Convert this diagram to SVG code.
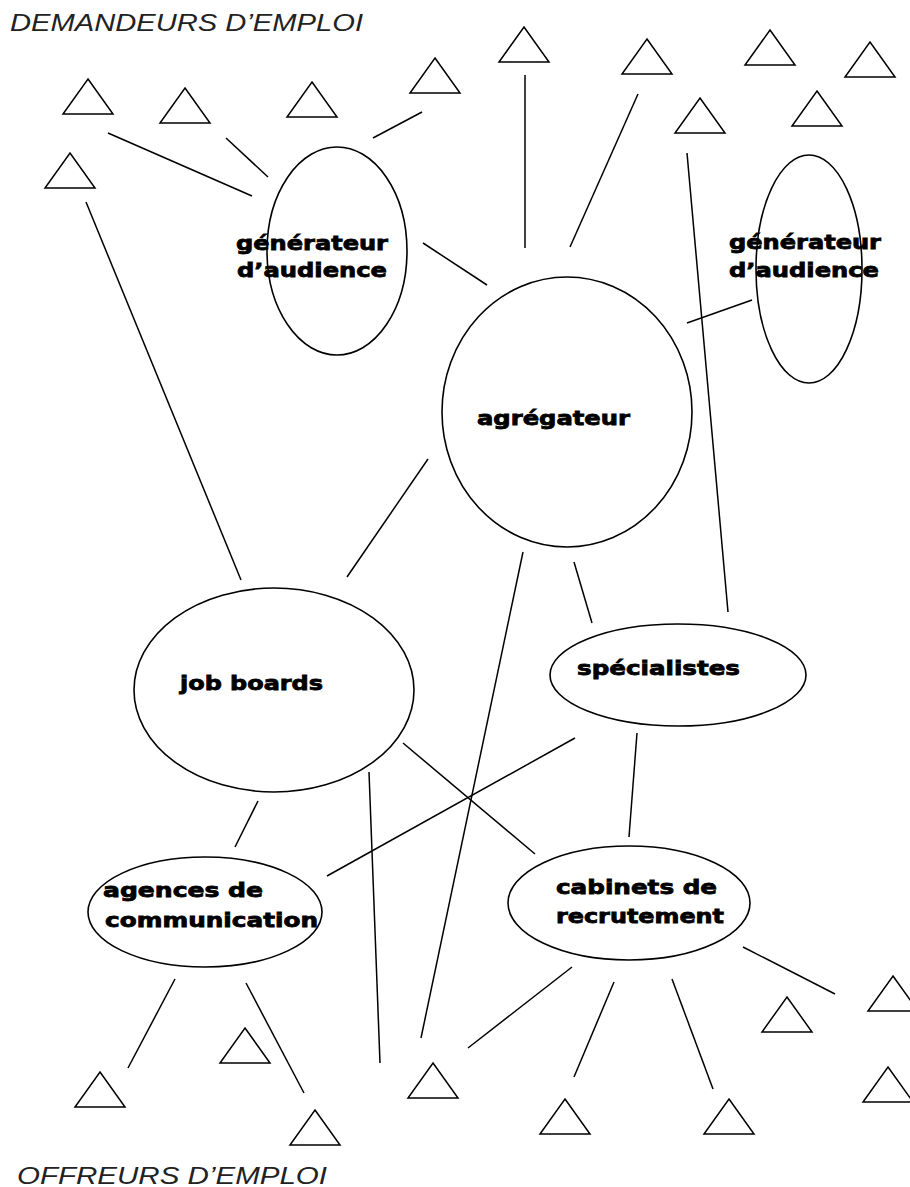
<svg xmlns="http://www.w3.org/2000/svg" width="910" height="1187" viewBox="0 0 910 1187">
<style>
.bg{fill:#fff}
.ln{stroke:#000;stroke-width:1.5;fill:none}
.el{stroke:#000;stroke-width:1.6;fill:none}
.tri{stroke:#000;stroke-width:1.5;fill:none;stroke-linejoin:miter}
.lbl{font-family:"DejaVu Sans","Liberation Sans",sans-serif;font-weight:bold;font-size:20px;fill:#000;stroke:#000;stroke-width:0.8}
.ttl{font-family:"Liberation Sans","DejaVu Sans",sans-serif;font-style:italic;font-size:24px;fill:#222}
</style>
<defs>
<path id="t" d="M0,0 L25,35 L-25,35 Z"/>
</defs>
<rect class="bg" x="0" y="0" width="910" height="1187"/>

<text class="ttl" x="10" y="31" textLength="353" lengthAdjust="spacingAndGlyphs">DEMANDEURS D’EMPLOI</text>
<text class="ttl" x="17" y="1184" textLength="310" lengthAdjust="spacingAndGlyphs">OFFREURS D’EMPLOI</text>

<g id="connectors">
<line class="ln" x1="108" y1="133" x2="252" y2="196"/>
<line class="ln" x1="226" y1="138" x2="268" y2="177"/>
<line class="ln" x1="373" y1="138" x2="422" y2="112"/>
<line class="ln" x1="86" y1="202" x2="241" y2="580"/>
<line class="ln" x1="423" y1="243" x2="487" y2="285"/>
<line class="ln" x1="525" y1="75" x2="525" y2="248"/>
<line class="ln" x1="638" y1="94" x2="570" y2="247"/>
<line class="ln" x1="687" y1="153" x2="728" y2="612"/>
<line class="ln" x1="687" y1="323" x2="752" y2="300"/>
<line class="ln" x1="428" y1="459" x2="347" y2="577"/>
<line class="ln" x1="523" y1="552" x2="421" y2="1038"/>
<line class="ln" x1="574" y1="562" x2="592" y2="623"/>
<line class="ln" x1="637" y1="733" x2="629" y2="837"/>
<line class="ln" x1="575" y1="738" x2="327" y2="876"/>
<line class="ln" x1="403" y1="743" x2="535" y2="854"/>
<line class="ln" x1="369" y1="772" x2="380" y2="1063"/>
<line class="ln" x1="258" y1="801" x2="235" y2="847"/>
<line class="ln" x1="175" y1="979" x2="128" y2="1068"/>
<line class="ln" x1="246" y1="983" x2="304" y2="1093"/>
<line class="ln" x1="572" y1="967" x2="468" y2="1048"/>
<line class="ln" x1="614" y1="982" x2="574" y2="1077"/>
<line class="ln" x1="672" y1="979" x2="713" y2="1089"/>
<line class="ln" x1="743" y1="947" x2="835" y2="994"/>
</g>

<g id="demandeurs">
<use href="#t" class="tri" x="88" y="79"/>
<use href="#t" class="tri" x="185" y="88"/>
<use href="#t" class="tri" x="312" y="82"/>
<use href="#t" class="tri" x="435" y="58"/>
<use href="#t" class="tri" x="70" y="153"/>
<use href="#t" class="tri" x="524" y="27"/>
<use href="#t" class="tri" x="647" y="39"/>
<use href="#t" class="tri" x="770" y="30"/>
<use href="#t" class="tri" x="870" y="42"/>
<use href="#t" class="tri" x="700" y="98"/>
<use href="#t" class="tri" x="817" y="91"/>
</g>

<g id="offreurs">
<use href="#t" class="tri" x="100" y="1072"/>
<use href="#t" class="tri" x="245" y="1028"/>
<use href="#t" class="tri" x="315" y="1110"/>
<use href="#t" class="tri" x="433" y="1063"/>
<use href="#t" class="tri" x="565" y="1099"/>
<use href="#t" class="tri" x="729" y="1099"/>
<use href="#t" class="tri" x="787" y="997"/>
<use href="#t" class="tri" x="893" y="976"/>
<use href="#t" class="tri" x="888" y="1067"/>
</g>

<g id="generateur-gauche">
<ellipse class="el" cx="337" cy="251" rx="70" ry="104"/>
<text class="lbl" x="236" y="250" textLength="152" lengthAdjust="spacingAndGlyphs">générateur</text>
<text class="lbl" x="237" y="277" textLength="150" lengthAdjust="spacingAndGlyphs">d’audience</text>
</g>

<g id="generateur-droite">
<ellipse class="el" cx="809" cy="269" rx="53" ry="114"/>
<text class="lbl" x="729" y="249" textLength="152" lengthAdjust="spacingAndGlyphs">générateur</text>
<text class="lbl" x="729" y="277" textLength="150" lengthAdjust="spacingAndGlyphs">d’audience</text>
</g>

<g id="agregateur">
<ellipse class="el" cx="567" cy="412" rx="125" ry="135"/>
<text class="lbl" x="477" y="425" textLength="153" lengthAdjust="spacingAndGlyphs">agrégateur</text>
</g>

<g id="job-boards">
<ellipse class="el" cx="274" cy="690" rx="140" ry="102"/>
<text class="lbl" x="180" y="690" textLength="143" lengthAdjust="spacingAndGlyphs">job boards</text>
</g>

<g id="specialistes">
<ellipse class="el" cx="678" cy="675" rx="128" ry="51"/>
<text class="lbl" x="577" y="675" textLength="163" lengthAdjust="spacingAndGlyphs">spécialistes</text>
</g>

<g id="agences">
<ellipse class="el" cx="205" cy="912" rx="117" ry="55"/>
<text class="lbl" x="103" y="897" textLength="160" lengthAdjust="spacingAndGlyphs">agences de</text>
<text class="lbl" x="105" y="927" textLength="213" lengthAdjust="spacingAndGlyphs">communication</text>
</g>

<g id="cabinets">
<ellipse class="el" cx="629" cy="903" rx="121" ry="57"/>
<text class="lbl" x="556" y="894" textLength="161" lengthAdjust="spacingAndGlyphs">cabinets de</text>
<text class="lbl" x="556" y="923" textLength="168" lengthAdjust="spacingAndGlyphs">recrutement</text>
</g>
</svg>
